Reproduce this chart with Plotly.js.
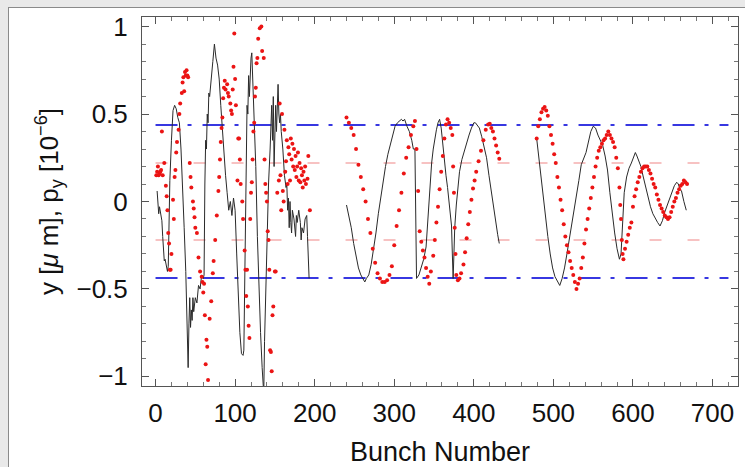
<!DOCTYPE html>
<html><head><meta charset="utf-8">
<script src="https://cdn.plot.ly/plotly-3.0.1.min.js"></script>
<style>
html,body{margin:0;padding:0;background:#e9e9e9;}
#frame{position:absolute;left:8px;top:7px;width:737px;height:460px;background:#fff;border-left:1px solid #8a8a8a;border-top:1px solid #8a8a8a;}
#chart{position:absolute;left:0;top:0;width:745px;height:467px;}
</style></head>
<body><div id="frame"></div><div id="chart"></div>
<script>
// black line (y) segments
const blackX1 = [2,3,4,5,6,8,9,11,12,14,15,16,17,18,20,22,24,26,28,30,32,34,36,38,40,41,42,43,44,45,46,47,48,50,52,54,56,58,60,61,62,63,64,65,66,67,68,70,72,74,76,78,80,82,84,86,88,90,92,94,96,98,100,102,104,106,108,110,111,112,113,114,115,116,117,118,119,120,121,122,123,124,126,128,130,132,134,136,137,138,140,142,144,146,147,148,149,150,151,152,154,155,156,157,158,160,162,164,165,166,167,168,169,170,171,172,174,176,177,178,180,182,183,184,186,188,190,191,192,193];
const blackY1 = [0.06,-0.02,-0.07,-0.03,-0.06,-0.11,-0.2,-0.34,-0.33,-0.39,-0.4,-0.37,-0.15,0.12,0.35,0.52,0.55,0.53,0.48,0.45,0.3,0.1,-0.15,-0.4,-0.7,-0.95,-0.7,-0.55,-0.72,-0.62,-0.68,-0.55,-0.63,-0.55,-0.58,-0.48,-0.5,-0.42,-0.44,-0.42,0.1,0.35,0.3,0.5,0.45,0.62,0.6,0.72,0.8,0.9,0.82,0.78,0.7,0.55,0.4,0.25,0.15,0.05,-0.05,0.0,-0.08,0.02,-0.05,-0.3,-0.55,-0.75,-0.87,-0.88,-0.85,-0.4,0.05,0.3,0.55,0.5,0.72,0.6,0.78,0.82,0.85,0.72,0.65,0.55,0.2,-0.2,-0.5,-0.75,-0.95,-1.1,-0.8,-0.6,-0.2,0.1,0.3,0.55,0.35,0.6,0.2,0.45,0.55,0.4,0.67,0.5,0.45,0.5,0.4,0.3,0.15,0.08,0.1,-0.05,0.02,-0.15,0.0,-0.12,-0.18,-0.05,-0.1,-0.2,-0.08,-0.12,-0.05,-0.12,-0.22,-0.15,-0.18,-0.1,-0.08,-0.2,-0.3,-0.44];
const blackX2 = [240,243,246,249,252,255,258,261,263,265,268,271,274,277,280,283,286,289,292,295,298,301,304,307,309,311,313,316,319,322,324,326,327,328,331,334,337,340,343,345,347,349,351,353,355,357,359,361,363,365,367,369,371,372,373,374,375,376,378,380,382,385,388,391,394,397,400,402,404,407,410,413,416,419,422,425,428,430,432];
const blackY2 = [-0.02,-0.08,-0.15,-0.24,-0.32,-0.38,-0.42,-0.45,-0.46,-0.44,-0.42,-0.36,-0.28,-0.18,-0.07,0.03,0.12,0.2,0.27,0.32,0.38,0.43,0.45,0.46,0.47,0.46,0.47,0.43,0.4,0.35,0.3,0.3,0.0,-0.44,-0.42,-0.37,-0.33,-0.26,-0.05,0.11,0.22,0.3,0.36,0.41,0.45,0.47,0.42,0.32,0.22,0.15,0.08,0.0,-0.08,-0.14,-0.3,-0.44,-0.3,-0.15,-0.02,0.08,0.17,0.24,0.29,0.33,0.38,0.42,0.45,0.45,0.44,0.42,0.37,0.31,0.25,0.15,0.05,-0.05,-0.13,-0.19,-0.24];
const blackX3 = [479,481,484,487,490,493,496,499,502,505,508,511,514,517,520,523,526,529,532,535,538,541,544,547,550,553,556,559,562,565,568,571,574,577,580,583,585,587,589,592,595,598,601,603,605,607,610,613,616,619,622,625,628,631,634,637,640,643,646,649,652,655,657,659,661,664,667];
const blackY3 = [0.36,0.28,0.15,0.02,-0.1,-0.2,-0.3,-0.38,-0.43,-0.46,-0.48,-0.44,-0.38,-0.3,-0.22,-0.14,-0.06,0.02,0.12,0.21,0.25,0.28,0.34,0.4,0.43,0.42,0.38,0.35,0.32,0.26,0.18,0.05,-0.08,-0.18,-0.27,-0.33,-0.3,-0.1,0.05,0.14,0.19,0.22,0.26,0.28,0.26,0.24,0.2,0.14,0.08,0.02,-0.03,-0.07,-0.1,-0.12,-0.14,-0.11,-0.06,-0.02,0.02,0.06,0.09,0.11,0.1,0.07,0.06,0.0,-0.05];

// red dots (p_y) segments
const redX1 = [1,2,3,4,5,6,7,8,9,11,
 13,14,15,16,17,18,19,20,22,23,
 24,25,26,27,29,30,31,33,34,35,
 36,37,38,39,40,41,43,44,45,47,
 48,49,50,52,54,56,58,59,60,61,
 62,63,64,65,66,68,70,72,73,75,
 77,79,80,81,82,83,84,85,86,87,
 88,90,91,92,94,95,96,97,98,99,
 100,101,103,104,105,106,107,109,110,112,
 113,114,115,116,117,118,119,120,121,122,
 123,124,125,126,127,128,129,131,133,134,
 136,137,138,139,140,141,142,143,144,145,
 146,147,148,150,151,153,155,156,157,158,
 159,160,161,162,163,164,165,166,167,168,
 169,170,171,172,173,174,175,176,177,178,
 179,180,181,182,183,184,185,186,187,188,
 189,191,192,194];
const redY1 = [0.15,0.17,0.20,0.15,0.16,0.17,0.18,0.40,0.15,0.22,
 0.09,0.03,-0.05,-0.18,-0.24,-0.39,-0.39,-0.30,0.01,-0.10,
 0.14,0.18,0.28,0.34,0.41,0.50,0.56,0.62,0.68,0.71,
 0.63,0.74,0.72,0.75,0.72,0.71,0.22,0.14,0.08,0.00,
 -0.04,-0.09,-0.15,-0.18,-0.32,-0.40,-0.43,-0.46,-0.52,-0.47,
 -0.65,-0.93,-0.79,-0.83,-1.02,-0.67,-0.57,-0.41,-0.34,-0.22,
 -0.08,0.06,0.14,0.24,0.34,0.42,0.48,0.59,0.65,0.69,
 0.64,0.67,0.62,0.60,0.56,0.52,0.50,0.64,0.77,0.96,
 0.70,0.55,0.12,0.36,0.36,0.24,0.10,0.00,-0.10,-0.28,
 -0.39,-0.54,-0.39,-0.60,-0.71,-0.78,-0.10,0.05,0.11,0.24,
 0.40,0.45,0.60,0.65,0.79,0.82,0.93,0.99,1.00,0.86,
 0.82,0.24,0.10,0.05,0.00,-0.17,-0.22,-0.39,-0.85,-0.86,
 -0.97,-0.65,-0.60,-0.40,-0.40,0.05,0.12,0.56,0.15,-0.05,
 0.50,0.06,0.00,0.41,0.17,0.23,0.35,0.10,0.31,0.27,
 0.12,0.36,0.24,0.33,0.20,0.30,0.18,0.26,0.14,0.20,
 0.28,0.12,0.22,0.11,0.19,0.15,0.08,0.17,0.12,0.20,
 0.10,0.13,0.26,-0.05];
const redX2 = [240,243,246,249,252,255,258,261,264,267,270,273,276,279,282,285,288,291,294,297,300,303,306,309,312,315,318,321,324,326,328,330,332,334,336,338,340,342,344,346,349,351,353,355,357,359,361,363,365,367,369,371,373,374,375,376,377,378,380,382,384,387,389,391,393,395,397,399,401,403,406,409,412,415,418,420,422,424,426,428,430,432];
const redY2 = [0.48,0.45,0.42,0.38,0.30,0.21,0.14,0.07,0.0,-0.1,-0.18,-0.27,-0.35,-0.41,-0.44,-0.46,-0.46,-0.45,-0.42,-0.37,-0.25,-0.14,-0.05,0.05,0.16,0.25,0.31,0.38,0.43,0.46,0.30,0.06,-0.17,-0.23,-0.28,-0.32,-0.38,-0.43,-0.47,-0.40,-0.31,-0.22,-0.12,-0.03,0.07,0.17,0.26,0.36,0.44,0.47,0.45,0.42,0.38,0.2,0.05,-0.15,-0.3,-0.42,-0.45,-0.44,-0.41,-0.36,-0.29,-0.21,-0.13,-0.06,0.01,0.075,0.12,0.17,0.23,0.29,0.35,0.41,0.44,0.445,0.42,0.4,0.36,0.32,0.28,0.245];
const redX3 = [479,481,483,485,487,489,491,493,495,497,499,501,503,505,507,509,511,513,515,517,519,521,523,525,527,529,531,533,535,537,539,541,543,545,547,549,551,553,555,557,559,561,563,565,567,569,571,573,575,577,579,581,583,584,585,586,587,588,590,592,594,596,598,600,602,604,606,608,610,612,614,616,618,620,622,624,626,628,630,632,634,636,638,640,642,644,646,648,650,652,654,656,658,660,662,664,666,668];
const redY3 = [0.36,0.43,0.47,0.51,0.53,0.54,0.52,0.49,0.43,0.38,0.33,0.27,0.22,0.14,0.08,0.01,-0.05,-0.13,-0.2,-0.25,-0.29,-0.34,-0.38,-0.42,-0.46,-0.5,-0.47,-0.44,-0.38,-0.32,-0.24,-0.16,-0.1,-0.04,0.02,0.08,0.14,0.2,0.25,0.29,0.31,0.33,0.35,0.36,0.38,0.40,0.38,0.36,0.34,0.31,0.25,0.19,0.08,-0.02,-0.1,-0.22,-0.3,-0.33,-0.27,-0.23,-0.19,-0.15,-0.12,-0.03,0.03,0.07,0.11,0.14,0.17,0.19,0.2,0.2,0.2,0.18,0.16,0.13,0.1,0.08,0.04,0.01,-0.02,-0.04,-0.06,-0.08,-0.09,-0.1,-0.09,-0.06,-0.03,0.0,0.02,0.05,0.07,0.09,0.1,0.12,0.11,0.1];

// reference levels
const blueLevels = [0.437, -0.437];
const pinkLevels = [0.22, -0.22];
const blueSpan = [0, 720];
const pinkSpan = [0, 690];

const bx = blackX1.concat([null], blackX2, [null], blackX3);
const by = blackY1.concat([null], blackY2, [null], blackY3);
const rx = redX1.concat(redX2, redX3);
const ry = redY1.concat(redY2, redY3);

const traces = [];
pinkLevels.forEach(v => traces.push({x: pinkSpan, y: [v, v], mode: 'lines', line: {color: 'rgb(245,175,175)', width: 1.5, dash: '12px,26px'}, hoverinfo: 'skip'}));
blueLevels.forEach(v => traces.push({x: blueSpan, y: [v, v], mode: 'lines', line: {color: 'rgb(55,55,225)', width: 2, dash: '22px,10px,4px,11px'}, hoverinfo: 'skip'}));
traces.push({x: bx, y: by, mode: 'lines', line: {color: '#2a2a2a', width: 1}, connectgaps: false});
traces.push({x: rx, y: ry, mode: 'markers', marker: {color: 'rgb(235,20,20)', size: 4}});

const fnt = {family: 'Liberation Sans, Arial, sans-serif', color: '#111', size: 25};
const layout = {
  width: 745, height: 467,
  margin: {l: 142, r: 7, t: 17, b: 81},
  paper_bgcolor: 'rgba(0,0,0,0)', plot_bgcolor: '#fff',
  showlegend: false,
  font: fnt,
  xaxis: {
    range: [-17, 732], tickvals: [0,100,200,300,400,500,600,700],
    ticks: 'inside', ticklen: 7, tickcolor: '#555', mirror: 'allticks',
    showline: true, linecolor: '#555', linewidth: 1, showgrid: false, zeroline: false,
    minor: {dtick: 20, ticks: 'inside', ticklen: 4, tickcolor: '#777'},
    tickfont: {family: fnt.family, size: 26, color: '#111'}, ticklabelstandoff: 4,
    title: {text: 'Bunch Number', font: {family: fnt.family, size: 27, color: '#111'}, standoff: 14}
  },
  yaxis: {
    range: [-1.055, 1.055], tickvals: [-1,-0.5,0,0.5,1], ticktext: ['\u22121','\u22120.5','0','0.5','1'],
    ticks: 'inside', ticklen: 7, tickcolor: '#555', mirror: 'allticks',
    showline: true, linecolor: '#555', linewidth: 1, showgrid: false, zeroline: false,
    minor: {dtick: 0.1, ticks: 'inside', ticklen: 4, tickcolor: '#777'},
    tickfont: {family: fnt.family, size: 26, color: '#111'}, ticklabelstandoff: 8,
    title: {text: 'y [<i>\u03bc</i> m], p<sub>y</sub> [10<sup>\u22126</sup>]', font: {family: fnt.family, size: 26, color: '#111'}, standoff: 10}
  }
};
Plotly.newPlot('chart', traces, layout, {staticPlot: true});
</script></body></html>
